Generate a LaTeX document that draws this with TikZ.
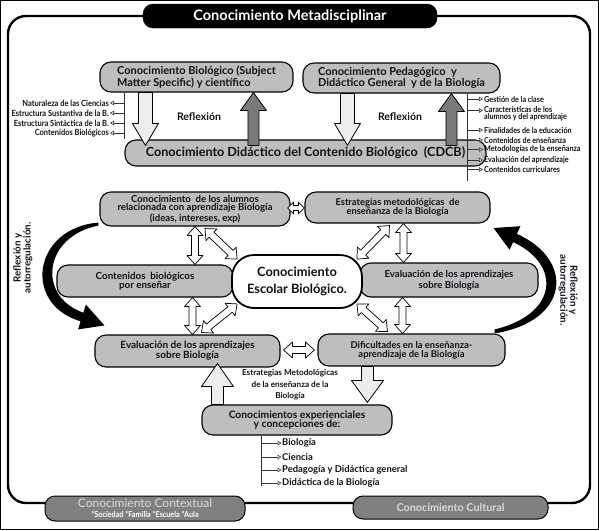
\documentclass[tikz,border=0pt]{standalone}
\usepackage{fontspec}
\setmainfont{Lato}
\newfontfamily\narrowfont[FakeStretch=0.88]{Lato}
\usetikzlibrary{calc,arrows.meta}
\definecolor{boxgray}{HTML}{BEBEBE}
\definecolor{lightfill}{HTML}{EDEDED}
\definecolor{darkfill}{HTML}{7A7A7A}
\definecolor{tabgray}{HTML}{808080}
\definecolor{tabtext}{HTML}{DADADA}
\definecolor{ink}{HTML}{101018}

% single block arrow: #1 style, #2 from, #3 to (tip), #4 shaft half width, #5 head half width, #6 head length
\newcommand\blockarr[6]{%
  \path ($(#3)!#6!(#2)$) coordinate (ba-h);
  \filldraw[#1] ($(#2)!#4!90:(#3)$) -- ($(ba-h)!#4!90:(#3)$) -- ($(ba-h)!#5!90:(#3)$) -- (#3)
    -- ($(ba-h)!#5!-90:(#3)$) -- ($(ba-h)!#4!-90:(#3)$) -- ($(#2)!#4!-90:(#3)$) -- cycle;}
% double block arrow: #1 from, #2 to, #3 shaft half, #4 head half, #5 head length
\newcommand\dblarr[5]{%
  \path ($(#1)!#5!(#2)$) coordinate (da-a) ($(#2)!#5!(#1)$) coordinate (da-b);
  \filldraw[dblstyle] (#1) -- ($(da-a)!#4!90:(#2)$) -- ($(da-a)!#3!90:(#2)$) -- ($(da-b)!#3!90:(#2)$)
    -- ($(da-b)!#4!90:(#2)$) -- (#2) -- ($(da-b)!#4!-90:(#2)$) -- ($(da-b)!#3!-90:(#2)$)
    -- ($(da-a)!#3!-90:(#2)$) -- ($(da-a)!#4!-90:(#2)$) -- cycle;}

\begin{document}
\begin{tikzpicture}[x=1pt,y=-1pt,line join=round,
  box/.style={draw=black, line width=1.1pt, fill=boxgray, rounded corners=11pt, inner sep=1pt, align=center, text=ink},
  lightarr/.style={draw=black, line width=0.8pt, fill=lightfill},
  darkarr/.style={draw=black, line width=0.8pt, fill=darkfill},
  dblstyle/.style={draw=black, line width=0.7pt, fill=white},
  listline/.style={line width=0.9pt, draw=black!80},
  listarr/.style={line width=0.6pt, draw=black!80, -{Triangle[open, length=4pt, width=4.5pt, fill=white]}},
  litem/.style={inner sep=0pt, font=\narrowfont\bfseries\fontsize{8.5}{7}\selectfont, text=ink},
  ritem/.style={inner sep=0pt, align=left, font=\narrowfont\bfseries\fontsize{8.2}{6.8}\selectfont, text=ink},
  bitem/.style={inner sep=0pt, font=\bfseries\fontsize{9.4}{9}\selectfont, text=ink},
  tab/.style={draw=black, line width=1pt, fill=tabgray, rounded corners=10pt, text=tabtext, align=center, inner sep=0pt},
  rottext/.style={align=center, font=\bfseries\fontsize{9.8}{10}\selectfont, text=ink, inner sep=0pt}
]
\useasboundingbox (0,0) rectangle (599,530);
\draw[line width=1.2pt] (0.8,0.8) rectangle (598.2,529.2);
\draw[line width=2.4pt, rounded corners=18pt] (8,16) rectangle (590,503);

% tabs
\node[draw=black, fill=black, rounded corners=10pt, minimum width=294pt, minimum height=24pt, text=white,
  font=\bfseries\fontsize{14.5}{15}\selectfont] (T) at (290,16) {Conocimiento Metadisciplinar};
\node[tab, minimum width=200pt, minimum height=25pt] (CTX) at (145,508.5)
  {{\fontsize{12}{11}\selectfont Conocimiento Contextual}\\[-2pt]{\narrowfont\bfseries\fontsize{8.2}{7}\selectfont\color{white}*Sociedad *Familia *Escuela *Aula}};
\node[tab, minimum width=195pt, minimum height=23pt, font=\bfseries\fontsize{10.8}{11}\selectfont] (CUL) at (450.5,507.5) {Conocimiento Cultural};

% top boxes
\node[box, minimum width=193pt, minimum height=30pt, align=left, font=\bfseries\fontsize{11}{10.5}\selectfont] (B1) at (196.5,77)
  {Conocimiento Biológico (Subject\\Matter Specific) y científico};
\node[box, minimum width=197pt, minimum height=30pt, align=left, font=\bfseries\fontsize{11}{10.5}\selectfont] (B2) at (401.5,78)
  {Conocimiento Pedagógico\ \ y\\Didáctico General\ \ y de la Biología};
\node[box, minimum width=361pt, minimum height=26pt, font=\bfseries\fontsize{12.6}{12}\selectfont] (CD) at (305.5,153)
  {Conocimiento Didáctico del Contenido Biológico\ \ (CDCB)};

\node[font=\bfseries\fontsize{10.5}{10}\selectfont, text=ink] (RF1) at (199,117) {Reflexión};
\node[font=\bfseries\fontsize{10.5}{10}\selectfont, text=ink] (RF2) at (400,117) {Reflexión};

% top arrows
\coordinate (la1) at ($(B1.south west)+(46,0)$);
\coordinate (la2) at ($(la1 |- CD.north)+(0,6)$);
\coordinate (ld1) at ($(CD.north west)+(129,6)$);
\coordinate (ld2) at (ld1 |- B1.south);
\coordinate (ra1) at ($(B2.south west)+(45,0)$);
\coordinate (ra2) at ($(ra1 |- CD.north)+(0,6)$);
\coordinate (rd1) at ($(CD.north west)+(327,6)$);
\coordinate (rd2) at (rd1 |- B2.south);
\blockarr{lightarr}{la1}{la2}{7pt}{13pt}{22pt}
\blockarr{darkarr}{ld1}{ld2}{5.5pt}{13pt}{18pt}
\blockarr{lightarr}{ra1}{ra2}{7pt}{13pt}{22pt}
\blockarr{darkarr}{rd1}{rd2}{5.5pt}{13pt}{18pt}

% left list
\coordinate (ll) at (CD.north west);
\draw[listline] (ll |- B1.south) -- (ll);
\node[litem, anchor=east] (l1) at (109,103) {Naturaleza de las Ciencias};
\node[litem, anchor=east] (l2) at (109,113) {Estructura Sustantiva de la B.};
\node[litem, anchor=east] (l3) at (109,123) {Estructura Sintáctica de la B.};
\node[litem, anchor=east] (l4) at (109,133) {Contenidos Biológicos};
\foreach \n in {l1,l2,l3,l4} \draw[listarr] (ll |- \n.east) -- ([xshift=1pt]\n.east);

% right list
\coordinate (rl0) at ($(B2.south west)+(165,0)$);
\coordinate (rl1) at ($(rl0)+(0,87)$);
\draw[listline] (rl0) -- (rl1);
\node[ritem, anchor=west] (r1) at (484,99) {Gestión de la clase};
\node[ritem, anchor=west] (r2) at (484,114) {Características de los\\alumnos y del aprendizaje};
\node[ritem, anchor=west] (r3) at (484,130) {Finalidades de la educación};
\node[ritem, anchor=west] (r4) at (484,140) {Contenidos de enseñanza};
\node[ritem, anchor=west] (r5) at (484,149.5) {Metodologías de la enseñanza};
\node[ritem, anchor=west] (r6) at (484,160) {Evaluación del aprendizaje};
\node[ritem, anchor=west] (r7) at (484,169.5) {Contenidos curriculares};
\coordinate (r2a) at ($(r2.west)+(0,-3.5)$);
\foreach \n in {r1,r3,r4,r5,r6,r7} \draw[listarr] (rl0 |- \n.west) -- ([xshift=-1pt]\n.west);
\draw[listarr] (rl0 |- r2a) -- ([xshift=-1pt]r2a);

% middle boxes
\node[box, minimum width=190pt, minimum height=34pt, font=\bfseries\fontsize{9.6}{8.4}\selectfont] (M1) at (195,209)
  {Conocimiento\ \ de los alumnos\\relacionada con aprendizaje Biología\\(ideas, intereses, exp)};
\node[box, minimum width=185pt, minimum height=31pt, font=\bfseries\fontsize{9.4}{9}\selectfont] (M2) at (397.5,207.5)
  {Estrategias metodológicas\ \ de\\enseñanza de la Biología};
\node[box, minimum width=176pt, minimum height=32pt, font=\bfseries\fontsize{9.8}{9.5}\selectfont] (M3) at (145,281)
  {Contenidos\ \ biológicos\\por enseñar};
\node[box, minimum width=178pt, minimum height=34pt, font=\bfseries\fontsize{9.6}{11}\selectfont] (M4) at (449,280)
  {Evaluación de los aprendizajes\\sobre Biología};
\node[box, minimum width=185pt, minimum height=32pt, font=\bfseries\fontsize{10}{9}\selectfont] (M5) at (187.5,351)
  {Evaluación de los aprendizajes\\sobre Biología};
\node[box, minimum width=187pt, minimum height=32pt, font=\bfseries\fontsize{9.4}{9}\selectfont] (M6) at (411.5,350)
  {Dificultades en la enseñanza-\\aprendizaje de la Biología};
\node[box, fill=white, line width=1.8pt, rounded corners=22pt, minimum width=130pt, minimum height=53pt,
  font=\bfseries\fontsize{12.8}{17}\selectfont] (C) at (297,281.5) {Conocimiento\\Escolar Biológico.};

% double arrows
\coordinate (d1a) at (M1.south);
\coordinate (d1b) at (M1.south |- M3.north);
\coordinate (d2b) at ([xshift=5pt]M5.north);
\coordinate (d2a) at (d2b |- M3.south);
\coordinate (d3a) at ([xshift=6pt]M2.south);
\coordinate (d3b) at (d3a |- M4.north);
\coordinate (d4b) at ([xshift=-9pt]M6.north);
\coordinate (d4a) at (d4b |- M4.south);
\dblarr{d1a}{d1b}{3.5pt}{8pt}{9pt}
\dblarr{d2a}{d2b}{3.5pt}{8pt}{9pt}
\dblarr{d3a}{d3b}{3.5pt}{8pt}{9pt}
\dblarr{d4a}{d4b}{3.5pt}{8pt}{9pt}
\coordinate (g1a) at ($(M1.south)+(10,2)$);
\coordinate (g1b) at ($(C.north west)+(6,5)$);
\coordinate (g2a) at ($(M5.north)+(14,-2)$);
\coordinate (g2b) at ($(C.south west)+(6,-5)$);
\coordinate (g3a) at ($(M2.south)+(-8,2)$);
\coordinate (g3b) at ($(C.north east)+(-6,5)$);
\coordinate (g4a) at ($(M6.north)+(-24,-2)$);
\coordinate (g4b) at ($(C.south east)+(-6,-5)$);
\dblarr{g1a}{g1b}{3.5pt}{8pt}{9pt}
\dblarr{g2a}{g2b}{3.5pt}{8pt}{9pt}
\dblarr{g3a}{g3b}{3.5pt}{8pt}{9pt}
\dblarr{g4a}{g4b}{3.5pt}{8pt}{9pt}
\coordinate (h1a) at ($(M1.east)+(-3,-1)$);
\coordinate (h1b) at (h1a -| M2.west);
\dblarr{h1a}{h1b}{2.5pt}{6pt}{6pt}
\coordinate (h2a) at ($(M5.east)+(3,-1)$);
\coordinate (h2b) at ($(h2a -| M6.west)+(-3,0)$);
\dblarr{h2a}{h2b}{3.5pt}{8pt}{9pt}

% curved arrows
\coordinate (ca1) at ($(M1.south west)+(-1,-4)$);
\coordinate (ca2) at ($(M5.north west)+(10,-9)$);
\fill[black] (ca1) .. controls (33,228) and (22,304) .. (80.6,321.3) -- (78.1,329.4) -- (ca2)
  -- (85.9,304.6) -- (83.4,312.7) .. controls (36,296) and (44,236) .. ($(ca1)+(0,3)$) -- cycle;
\coordinate (cb1) at ($(M6.north east)+(-11,0)$);
\coordinate (cb2) at ($(M2.east)+(3,20.5)$);
\fill[black] (cb1) .. controls (570,321) and (575,260) .. (516.9,233.9) -- (520.4,226.2) -- (cb2)
  -- (509.6,249.8) -- (513.1,242.1) .. controls (561,264) and (559,314) .. ($(cb1)+(0,-4)$) -- cycle;
\node[rottext, rotate=90] (RL) at (23,258) {Reflexión y\\autorregulación.};
\node[rottext, rotate=-90] (RR) at (568,290) {Reflexión y\\autorregulación.};

% bottom part
\node[box, minimum width=190pt, minimum height=30pt, font=\bfseries\fontsize{10.3}{9.5}\selectfont] (K) at (297,420)
  {Conocimientos experienciales\\y concepciones de:};
\node[align=center, inner sep=0pt, font=\bfseries\fontsize{8.2}{11.5}\selectfont, text=ink] (EM) at (290,385)
  {Estrategias Metodológicas\\de la enseñanza de la\\Biología};
\coordinate (ua1) at ($(K.north west)+(16,0)$);
\coordinate (ua2) at ($(ua1 |- M5.south)+(0,-4)$);
\coordinate (dn1) at ($(M6.south west)+(50,0)$);
\coordinate (dn2) at ($(dn1 |- K.north)+(0,-2)$);
\blockarr{lightarr}{ua1}{ua2}{6pt}{16pt}{23pt}
\blockarr{lightarr}{dn1}{dn2}{6pt}{16pt}{22pt}

\coordinate (bl0) at ($(K.south west)+(60,0)$);
\coordinate (bl1) at ($(bl0)+(0,50)$);
\draw[listline] (bl0) -- (bl1);
\node[bitem, anchor=west] (k1) at (282,443) {Biología};
\node[bitem, anchor=west] (k2) at (282,457) {Ciencia};
\node[bitem, anchor=west] (k3) at (282,470) {Pedagogía y Didáctica general};
\node[bitem, anchor=west] (k4) at (282,483) {Didáctica de la Biología};
\foreach \n in {k1,k2,k3,k4} \draw[listarr] (bl0 |- \n.west) -- ([xshift=-0.5pt]\n.west);
\end{tikzpicture}
\end{document}
